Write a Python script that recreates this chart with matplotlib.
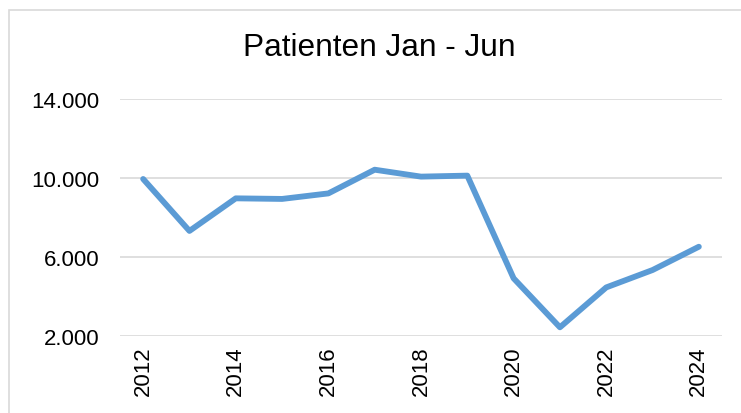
import matplotlib.pyplot as plt
from matplotlib.patches import Rectangle
from matplotlib.ticker import FuncFormatter

plt.rcParams['font.family'] = ['Liberation Sans', 'DejaVu Sans']

# Patientenzahlen jeweils Januar bis Juni
years = [2012, 2013, 2014, 2015, 2016, 2017, 2018, 2019, 2020, 2021, 2022, 2023, 2024]
patients = [9950, 7320, 8970, 8940, 9220, 10420, 10070, 10120, 4920, 2440, 4460, 5340, 6520]
year_labels = [str(y) if y % 2 == 0 else '' for y in years]

fig = plt.figure(figsize=(7.41, 4.14), dpi=100)
ax = fig.add_axes([120 / 741, 77 / 414, 602 / 741, 237 / 414])

# grauer Rahmen um das Diagramm
fig.patches.append(Rectangle((8.5 / 741, -0.1), 1.2, (414 - 10.5) / 414 + 0.1,
                             transform=fig.transFigure, fill=False,
                             edgecolor='#d9d9d9', linewidth=1.2))

x = list(range(len(years)))
ax.plot(x, patients, color='#5b9bd5', linewidth=4.2,
        solid_capstyle='round', solid_joinstyle='round', zorder=3)

ax.set_xlim(-0.5, len(years) - 0.5)
ax.set_ylim(2000, 14000)
ax.set_yticks([2000, 6000, 10000, 14000])
ax.yaxis.set_major_formatter(FuncFormatter(lambda v, p: f'{int(v):,}'.replace(',', '.')))
ax.set_xticks(x)
ax.set_xticklabels(year_labels, rotation=90)

ax.grid(axis='y', color='#d9d9d9', linewidth=1.2)
ax.set_axisbelow(True)
for s in ax.spines.values():
    s.set_visible(False)
ax.tick_params(axis='y', length=0, pad=15, labelsize=16, labelcolor='black')
ax.tick_params(axis='x', length=0, pad=7, labelsize=16, labelcolor='black')

fig.text(379 / 741, 1 - 48 / 414, 'Patienten Jan - Jun', ha='center', va='center',
         fontsize=22.8, color='black')

fig.savefig('out.png', dpi=100)
